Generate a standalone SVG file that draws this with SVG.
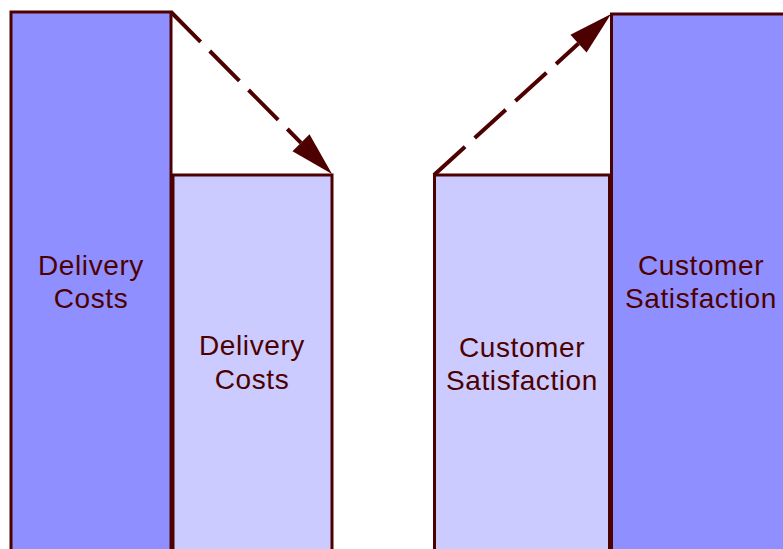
<svg xmlns="http://www.w3.org/2000/svg" width="783" height="549" viewBox="0 0 783 549">
  <style>
    .bar { stroke: #4d0000; stroke-width: 3; }
    .dark { fill: #8f8fff; }
    .light { fill: #cbcbff; }
    .label { font-family: "Liberation Sans", Arial, sans-serif; font-size: 28px; letter-spacing: 0.6px; fill: #4d0000; text-anchor: middle; }
    .flow { fill: none; stroke: #4d0000; stroke-width: 4; stroke-dasharray: 42 13; }
  </style>
  <defs>
    <marker id="head" markerUnits="userSpaceOnUse" markerWidth="44" markerHeight="24" refX="0" refY="12" orient="auto" overflow="visible">
      <path d="M0,0 L44,12 L0,24 Z" fill="#4d0000"/>
    </marker>
  </defs>
  <rect width="783" height="549" fill="#ffffff"/>

  <g id="delivery-before">
    <rect class="bar dark" x="11" y="12" width="160" height="560"/>
    <text class="label" x="91" y="275">Delivery</text>
    <text class="label" x="91" y="308">Costs</text>
  </g>

  <g id="delivery-after">
    <rect class="bar light" x="173" y="175" width="159" height="400"/>
    <text class="label" x="252" y="355">Delivery</text>
    <text class="label" x="252" y="389">Costs</text>
  </g>

  <g id="satisfaction-before">
    <rect class="bar light" x="434.5" y="175" width="175" height="400"/>
    <text class="label" x="522" y="357">Customer</text>
    <text class="label" x="522" y="390">Satisfaction</text>
  </g>

  <g id="satisfaction-after">
    <rect class="bar dark" x="611.5" y="14" width="190" height="560"/>
    <text class="label" x="701" y="275">Customer</text>
    <text class="label" x="701" y="308">Satisfaction</text>
  </g>

  <g id="connectors">
    <line class="flow" x1="171" y1="12" x2="301" y2="142.8" marker-end="url(#head)"/>
    <line class="flow" x1="434" y1="175" x2="578.5" y2="43.6" marker-end="url(#head)"/>
  </g>
</svg>
